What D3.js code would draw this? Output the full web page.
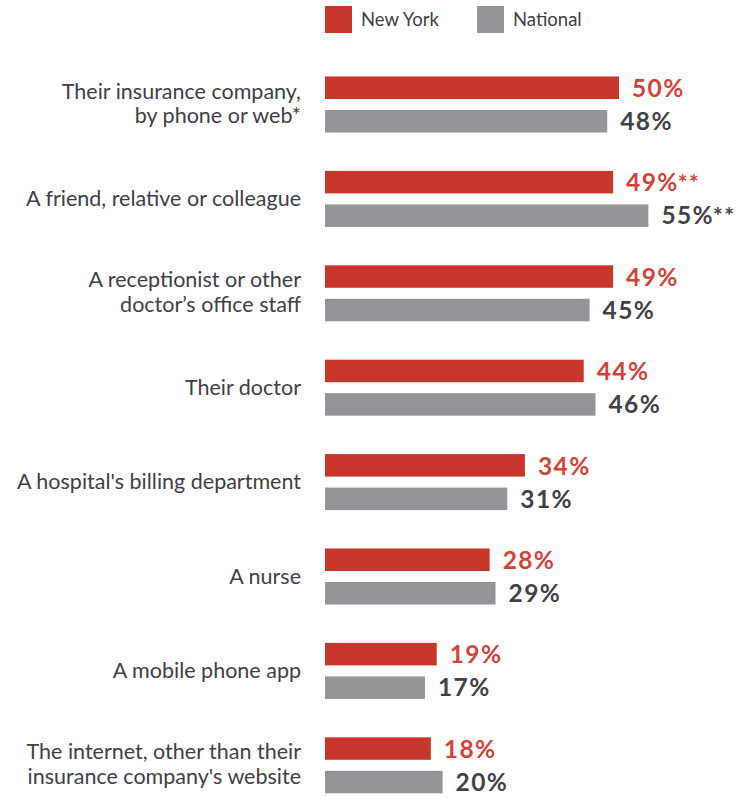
<!DOCTYPE html>
<html>
<head>
<meta charset="utf-8">
<script src="https://cdn.jsdelivr.net/npm/d3@7"></script>
<style>
  body { margin: 0; background: #fff; }
  svg { display: block; }
  text { font-family: Lato, "Open Sans", sans-serif; }
</style>
</head>
<body>
<div id="chart"></div>
<script>
// categories, one array of lines per label
var categories = [
  ["Their insurance company,", "by phone or web*"],
  ["A friend, relative or colleague"],
  ["A receptionist or other", "doctor\u2019s office staff"],
  ["Their doctor"],
  ["A hospital's billing department"],
  ["A nurse"],
  ["A mobile phone app"],
  ["The internet, other than their", "insurance company's website"]
];
var newYork = [50, 49, 49, 44, 34, 28, 19, 18];
var national = [48, 55, 45, 46, 31, 29, 17, 20];
var newYorkNotes = ["", "**", "", "", "", "", "", ""];
var nationalNotes = ["", "**", "", "", "", "", "", ""];
var seriesNames = ["New York", "National"];

var width = 744, height = 798;
var red = "#c8362b", grey = "#939598";

var svg = d3.select("#chart").append("svg")
    .attr("width", width)
    .attr("height", height);

var x = d3.scaleLinear().domain([0, 50]).range([325, 619]);
var y = d3.scaleBand().domain(d3.range(categories.length)).range([76.5, 76.5 + 94.4 * 8]);
var barH = 22.5, barGap = 33.5;

// legend
var legend = svg.append("g");
var legendX = [325, 477];
seriesNames.forEach(function (name, i) {
    legend.append("rect")
        .attr("x", legendX[i]).attr("y", 6)
        .attr("width", 27).attr("height", 27)
        .attr("fill", i === 0 ? red : grey);
    legend.append("text")
        .attr("x", legendX[i] + 36).attr("y", 26)
        .attr("font-size", 18.5)
        .attr("fill", "#3f4048")
        .text(name);
});

var groups = svg.selectAll("g.grp")
    .data(categories)
    .enter().append("g")
    .attr("class", "grp")
    .attr("transform", function (d, i) { return "translate(0," + y(i) + ")"; });

// category labels
groups.append("text")
    .attr("text-anchor", "end")
    .attr("font-size", 21.5)
    .attr("fill", "#3f4048")
    .each(function (lines) {
        var t = d3.select(this);
        var start = lines.length === 1 ? 35 : 22;
        lines.forEach(function (line, k) {
            t.append("tspan")
                .attr("x", 301)
                .attr("y", start + k * 24.5)
                .text(line);
        });
    });

// bars
groups.append("rect")
    .attr("x", x(0))
    .attr("y", 0)
    .attr("height", barH)
    .attr("width", function (d, i) { return x(newYork[i]) - x(0); })
    .attr("fill", red);

groups.append("rect")
    .attr("x", x(0))
    .attr("y", barGap)
    .attr("height", barH)
    .attr("width", function (d, i) { return x(national[i]) - x(0); })
    .attr("fill", grey);

// value labels
function valueLabel(values, notes, dy, colour) {
    var t = groups.append("text")
        .attr("x", function (d, i) { return x(values[i]) + 13; })
        .attr("y", dy)
        .attr("font-size", 24.5)
        .attr("font-weight", 700)
        .attr("letter-spacing", 1.4)
        .attr("fill", colour);
    t.append("tspan").text(function (d, i) { return values[i] + "%"; });
    t.append("tspan")
        .attr("font-size", 23)
        .attr("dx", -1)
        .text(function (d, i) { return notes[i]; });
}
valueLabel(newYork, newYorkNotes, 20.5, "#d2443a");
valueLabel(national, nationalNotes, barGap + 20, "#414147");
</script>
</body>
</html>
